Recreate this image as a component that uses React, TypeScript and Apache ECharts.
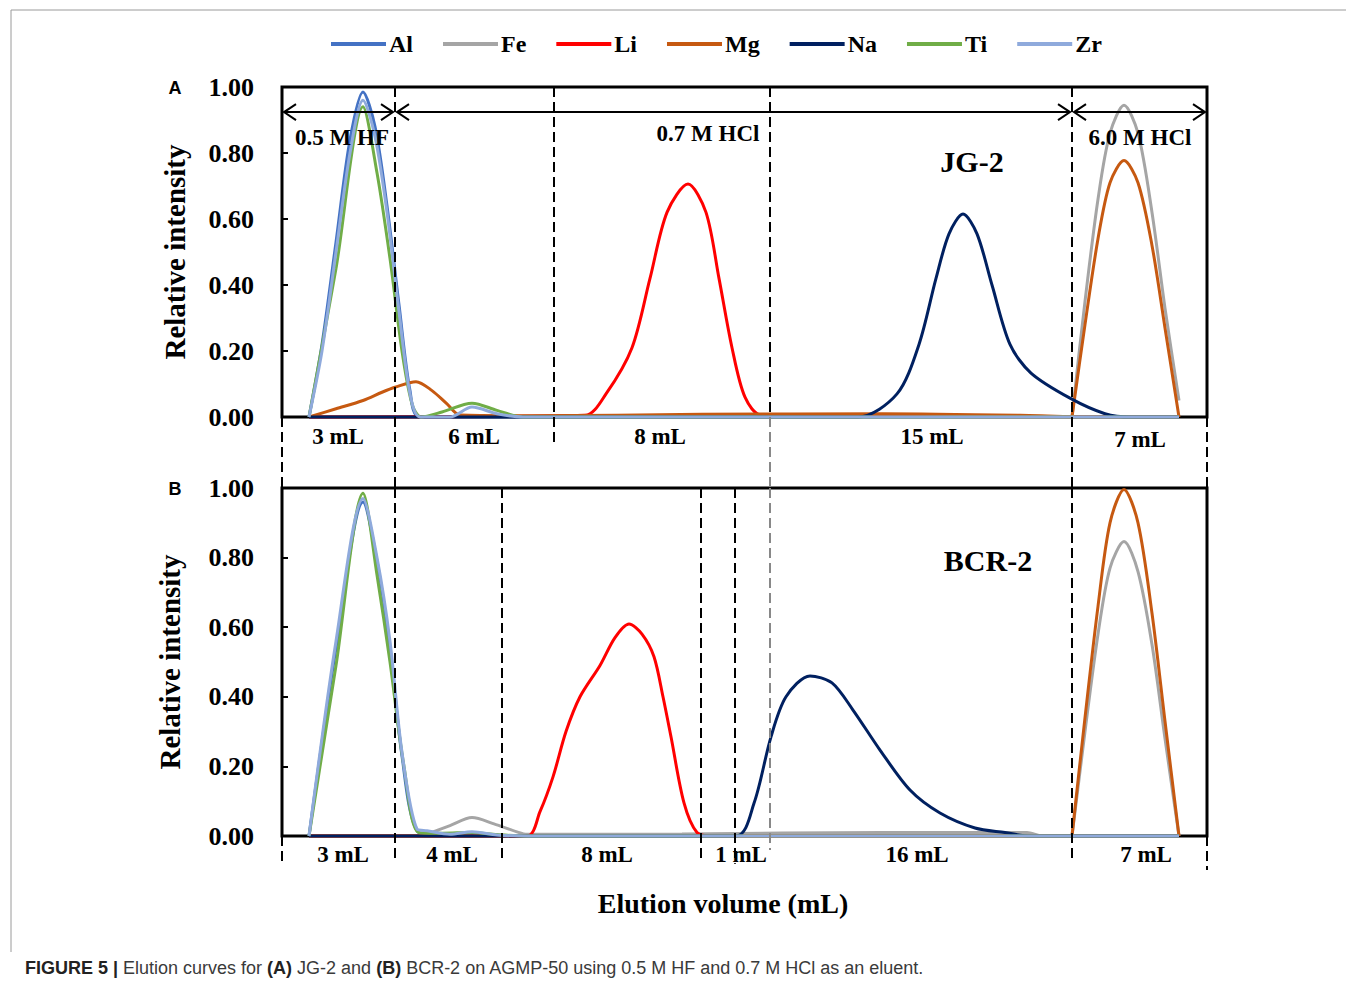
import React, { useEffect, useRef } from "react";
import * as echarts from "echarts";

// x values: elution position along the column sequence (arbitrary units, 0–925)
// "-" marks a break between the baseline and a separately eluted peak
const ELEMENTS = ["Al", "Fe", "Li", "Mg", "Na", "Ti", "Zr"];
const COLORS = ["#4472C4", "#A5A5A5", "#FF0000", "#C65911", "#002060", "#70AD47", "#8FAADC"];

// Panel A: JG-2
const alA = [[27, 0], [40, 0.22], [54, 0.53], [68, 0.84], [81, 0.985], [93, 0.88], [105, 0.64], [117, 0.34], [128, 0.08], [138, 0], [897, 0]];
const feA = [[27, 0], [790, 0], [790, "-"], [790, 0], [803, 0.35], [816, 0.66], [828, 0.86], [842, 0.945], [856, 0.86], [870, 0.62], [883, 0.33], [897, 0.05]];
const liA = [[27, 0], [303, 0.005], [324, 0.07], [350, 0.21], [368, 0.42], [385, 0.62], [406, 0.706], [424, 0.62], [437, 0.42], [450, 0.21], [463, 0.06], [480, 0.005], [897, 0]];
const mgA = [[27, 0], [54, 0.025], [81, 0.05], [100, 0.075], [113, 0.09], [134, 0.107], [150, 0.08], [165, 0.04], [178, 0.006], [250, 0.004], [420, 0.008], [600, 0.01], [738, 0.005], [790, 0], [790, "-"], [790, 0], [803, 0.28], [816, 0.54], [828, 0.71], [842, 0.777], [856, 0.71], [870, 0.52], [883, 0.27], [897, 0]];
const naA = [[27, 0], [576, 0], [615, 0.07], [637, 0.22], [654, 0.42], [667, 0.555], [681, 0.615], [695, 0.555], [710, 0.4], [728, 0.22], [749, 0.133], [788, 0.057], [823, 0.01], [849, 0], [897, 0]];
const tiA = [[27, 0], [54, 0.45], [81, 0.94], [95, 0.74], [108, 0.48], [120, 0.2], [130, 0.04], [139, 0], [160, 0.015], [190, 0.042], [215, 0.02], [241, 0], [897, 0]];
const zrA = [[27, 0], [40, 0.2], [54, 0.5], [68, 0.8], [81, 0.96], [93, 0.85], [105, 0.62], [117, 0.32], [128, 0.07], [138, 0], [168, 0], [190, 0.03], [215, 0.01], [241, 0], [897, 0]];

// Panel B: BCR-2
const alB = [[27, 0], [54, 0.54], [81, 0.96], [95, 0.79], [108, 0.54], [120, 0.23], [135, 0.015], [160, 0], [897, 0]];
const feB = [[27, 0], [140, 0], [145, 0.005], [168, 0.03], [190, 0.053], [212, 0.035], [235, 0.012], [245, 0.005], [400, 0.006], [600, 0.01], [745, 0.01], [760, 0], [790, 0], [790, "-"], [790, 0], [803, 0.3], [816, 0.58], [828, 0.77], [842, 0.846], [856, 0.76], [870, 0.55], [883, 0.28], [897, 0]];
const liB = [[27, 0], [245, 0], [258, 0.07], [271, 0.17], [284, 0.3], [298, 0.4], [318, 0.49], [333, 0.57], [347, 0.609], [360, 0.58], [372, 0.515], [381, 0.4], [389, 0.285], [402, 0.095], [415, 0.01], [430, 0], [897, 0]];
const mgB = [[27, 0], [790, 0], [790, "-"], [790, 0], [803, 0.34], [816, 0.66], [828, 0.9], [842, 0.996], [856, 0.9], [870, 0.64], [883, 0.33], [897, 0]];
const naB = [[27, 0], [454, 0], [472, 0.094], [489, 0.285], [504, 0.4], [528, 0.46], [550, 0.44], [571, 0.362], [598, 0.247], [628, 0.132], [658, 0.066], [693, 0.023], [723, 0.01], [748, 0], [897, 0]];
const tiB = [[27, 0], [54, 0.49], [81, 0.985], [95, 0.75], [108, 0.5], [122, 0.2], [137, 0.01], [160, 0.008], [190, 0.01], [215, 0.004], [245, 0], [897, 0]];
const zrB = [[27, 0], [54, 0.56], [81, 0.97], [95, 0.8], [108, 0.56], [120, 0.24], [135, 0.02], [145, 0.015], [168, 0.005], [190, 0.012], [215, 0.003], [245, 0], [897, 0]];

const Y_TICKS = [0, 0.2, 0.4, 0.6, 0.8, 1.0];

// fraction cut positions
const cutsA = [0, 113, 272, 488, 790, 925];
const cutsB = [0, 113, 220, 419, 453, 790, 925];
const fractionsA = ["3 mL", "6 mL", "8 mL", "15 mL", "7 mL"];
const fractionsB = ["3 mL", "4 mL", "8 mL", "1 mL", "16 mL", "7 mL"];
const eluents = ["0.5 M HF", "0.7 M HCl", "6.0 M HCl"];

const SERIF = "'Liberation Serif', 'Times New Roman', serif";
const SANS = "'Liberation Sans', Arial, sans-serif";

export default function App() {
  const ref = useRef<HTMLDivElement>(null);

  useEffect(() => {
    if (!ref.current) return;
    const chart = echarts.init(ref.current, undefined, { renderer: "svg" });

    const dataA = [alA, feA, liA, mgA, naA, tiA, zrA];
    const dataB = [alB, feB, liB, mgB, naB, tiB, zrB];

    const mkSeries = (d: any[], i: number, g: number) => ({
      type: "line",
      name: ELEMENTS[i],
      xAxisIndex: g,
      yAxisIndex: g,
      data: d,
      smooth: 0.3,
      connectNulls: false,
      symbol: "none",
      clip: false,
      lineStyle: { color: COLORS[i], width: 3 },
      itemStyle: { color: COLORS[i] },
    });

    const yAxisBase = (g: number) => ({
      gridIndex: g,
      type: "value",
      min: Y_TICKS[0],
      max: Y_TICKS[Y_TICKS.length - 1],
      interval: 0.2,
      axisLine: { show: false },
      axisTick: { show: true, inside: true, length: 6, lineStyle: { color: "#000", width: 2 } },
      splitLine: { show: false },
      axisLabel: {
        formatter: (v: number) => v.toFixed(2),
        color: "#000",
        fontSize: 26,
        fontWeight: "bold",
        fontFamily: SERIF,
        margin: 28,
      },
    });

    const option: any = {
      animation: false,
      backgroundColor: "#fff",
      legend: {
        top: 27,
        left: 326,
        icon: "rect",
        itemWidth: 55,
        itemHeight: 4,
        itemGap: 30,
        data: ELEMENTS,
        textStyle: { fontSize: 24, fontWeight: "bold", fontFamily: SERIF, color: "#000", padding: [0, 0, 0, -2] },
      },
      grid: [
        { left: 282, top: 87, width: 925, height: 330, show: true, borderColor: "#000", borderWidth: 3, backgroundColor: "transparent" },
        { left: 282, top: 488, width: 925, height: 348, show: true, borderColor: "#000", borderWidth: 3, backgroundColor: "transparent" },
      ],
      xAxis: [
        { gridIndex: 0, type: "value", min: 0, max: 925, show: false },
        { gridIndex: 1, type: "value", min: 0, max: 925, show: false },
      ],
      yAxis: [yAxisBase(0), yAxisBase(1)],
      series: [
        ...dataA.map((d, i) => mkSeries(d, i, 0)),
        ...dataB.map((d, i) => mkSeries(d, i, 1)),
      ],
    };
    chart.setOption(option);

    const P = (g: number, x: number, y: number) => chart.convertToPixel({ gridIndex: g } as any, [x, y]) as number[];
    const g: any[] = [];
    const dash = (gi: number, x: number, y1: number, y2: number, color = "#000") => {
      const a = P(gi, x, y1);
      const b = P(gi, x, y2);
      g.push({ type: "line", silent: true, z: 10, shape: { x1: a[0], y1: a[1], x2: b[0], y2: b[1] }, style: { stroke: color, lineWidth: 2, lineDash: [10, 5] } });
    };
    const text = (x: number, y: number, t: string, size: number, family = SERIF, extra: any = {}) => {
      g.push({ type: "text", silent: true, z: 20, x, y, style: { text: t, fontSize: size, fontWeight: "bold", fontFamily: family, fill: "#000", align: "center", verticalAlign: "middle", ...extra } });
    };

    // Panel A separators
    dash(0, cutsA[0], 0, -0.215);
    dash(0, cutsA[1], 1, -0.215);
    dash(0, cutsA[2], 1, -0.085);
    dash(0, cutsA[3], 1, 0);
    dash(0, cutsA[3], 0, -0.215, "#888");
    dash(0, cutsA[4], 1, -0.215);
    dash(0, cutsA[5], 0, -0.215);
    // Panel B separators
    dash(1, cutsB[0], 0, -0.085);
    dash(1, cutsB[1], 1, -0.075);
    dash(1, cutsB[2], 1, -0.063);
    dash(1, cutsB[3], 1, -0.063);
    dash(1, cutsB[4], 1, -0.08);
    dash(1, cutsA[3], 1, -0.04, "#888");
    dash(1, cutsB[5], 1, -0.075);
    dash(1, cutsB[6], 0, -0.098);

    // Eluent arrows in panel A
    const arrowY = 0.924;
    const arrowSpans = [[cutsA[0], cutsA[1]], [cutsA[1], cutsA[4]], [cutsA[4], cutsA[5]]];
    arrowSpans.forEach(([x1, x2]) => {
      const a = P(0, x1, arrowY);
      const b = P(0, x2, arrowY);
      const ax = a[0] + 2, bx = b[0] - 2, y = a[1];
      const st = { stroke: "#000", lineWidth: 2, fill: "none" };
      g.push({ type: "line", silent: true, z: 15, shape: { x1: ax, y1: y, x2: bx, y2: y }, style: st });
      g.push({ type: "polyline", silent: true, z: 15, shape: { points: [[ax + 12, y - 8], [ax, y], [ax + 12, y + 8]] }, style: st });
      g.push({ type: "polyline", silent: true, z: 15, shape: { points: [[bx - 12, y - 8], [bx, y], [bx - 12, y + 8]] }, style: st });
    });
    const eluentPos = [[60, 0.848], [426, 0.858], [858, 0.848]];
    eluents.forEach((t, i) => {
      const p = P(0, eluentPos[i][0], eluentPos[i][1]);
      text(p[0], p[1], t, 23);
    });

    // sample names
    let p = P(0, 690, 0.773);
    text(p[0], p[1], "JG-2", 30);
    p = P(1, 706, 0.793);
    text(p[0], p[1], "BCR-2", 30);

    // fraction volume labels
    const fracXA = [56, 192, 378, 650, 858];
    fractionsA.forEach((t, i) => {
      const q = P(0, fracXA[i], i === 4 ? -0.067 : -0.06);
      text(q[0], q[1], t, 23);
    });
    const fracXB = [61, 170, 325, 459, 635, 864];
    fractionsB.forEach((t, i) => {
      const q = P(1, fracXB[i], -0.052);
      text(q[0], q[1], t, 23);
    });

    // axis titles and panel letters
    const ca = P(0, 0, 0.5);
    const cb = P(1, 0, 0.5);
    text(ca[0] - 107, ca[1], "Relative intensity", 29);
    g[g.length - 1].rotation = Math.PI / 2;
    text(cb[0] - 112, cb[1], "Relative intensity", 29);
    g[g.length - 1].rotation = Math.PI / 2;
    const xc = P(1, 441, 0);
    text(xc[0], 903, "Elution volume (mL)", 28);
    const pa = P(0, 0, 1);
    const pb = P(1, 0, 1);
    text(pa[0] - 107, pa[1] + 1, "A", 18, SANS);
    text(pb[0] - 107, pb[1] + 1, "B", 18, SANS);

    // figure frame and caption
    g.push({ type: "line", silent: true, shape: { x1: 11, y1: 10, x2: 1346, y2: 10 }, style: { stroke: "#9a9a9a", lineWidth: 1 } });
    g.push({ type: "line", silent: true, shape: { x1: 11, y1: 10, x2: 11, y2: 952 }, style: { stroke: "#9a9a9a", lineWidth: 1 } });
    g.push({
      type: "text",
      silent: true,
      x: 25,
      y: 968,
      style: {
        text: "{b|FIGURE 5 |} Elution curves for {b|(A)} JG-2 and {b|(B)} BCR-2 on AGMP-50 using 0.5 M HF and 0.7 M HCl as an eluent.",
        fontSize: 18,
        fontFamily: SANS,
        fill: "#3a3a3a",
        align: "left",
        verticalAlign: "middle",
        rich: { b: { fontSize: 18, fontFamily: SANS, fontWeight: "bold", fill: "#222" } },
      },
    });

    chart.setOption({ graphic: g });

    return () => chart.dispose();
  }, []);

  return <div ref={ref} style={{ position: "fixed", left: 0, top: 0, width: 1346, height: 986, background: "#fff" }} />;
}
